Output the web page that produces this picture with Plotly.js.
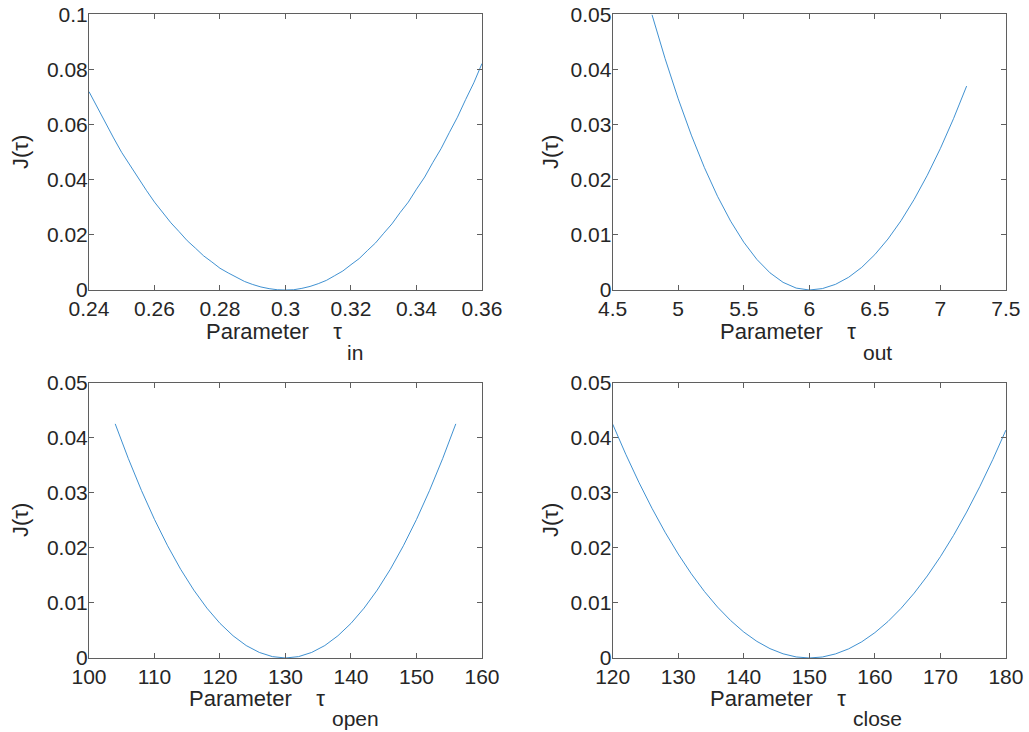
<!DOCTYPE html>
<html>
<head>
<meta charset="utf-8">
<script src="https://cdn.plot.ly/plotly-3.0.1.min.js"></script>
<style>html,body{margin:0;padding:0;background:#fff;}#plot{width:1029px;height:732px;}</style>
</head>
<body>
<div id="plot"></div>
<script>
// Panel 1: tau_in
const tauIn = [0.24,0.2425,0.245,0.2475,0.25,0.2525,0.255,0.2575,0.26,0.2625,0.265,0.2675,0.27,0.2725,0.275,0.2775,0.28,0.2825,0.285,0.2875,0.29,0.2925,0.295,0.2975,0.30,
  0.3025,0.305,0.3075,0.31,0.3125,0.315,0.3175,0.32,0.3225,0.325,0.3275,0.33,0.3325,0.335,0.3375,0.34,0.3425,0.345,0.3475,0.35,0.3525,0.355,0.3575,0.36];
const jIn = [0.0720,0.0663,0.0604,0.0552,0.0499,0.0452,0.0404,0.0362,0.0319,0.0282,0.0244,0.0212,0.0179,0.0152,0.0124,0.0102,0.0079,0.0062,0.0045,0.0031,0.0020,0.0011,0.0005,0.0001,0.0000,
  0.0001,0.0006,0.0013,0.0023,0.0035,0.0052,0.0069,0.0092,0.0114,0.0143,0.0171,0.0206,0.0240,0.0281,0.0319,0.0366,0.0410,0.0463,0.0513,0.0571,0.0627,0.0691,0.0752,0.0822];

// Panel 2: tau_out
const tauOut = [4.8,4.9,5.0,5.1,5.2,5.3,5.4,5.5,5.6,5.7,5.8,5.9,6.0,6.1,6.2,6.3,6.4,6.5,6.6,6.7,6.8,6.9,7.0,7.1,7.2];
const jOut = [0.04997,0.04199,0.03470,0.02811,0.02221,0.01700,0.01249,0.00868,0.00555,0.00312,0.00139,0.00035,0.0,
  0.00026,0.00103,0.00231,0.00411,0.00643,0.00925,0.01259,0.01645,0.02082,0.02570,0.03110,0.03701];

// Panel 3: tau_open
const tauOpen = [104,106,108,110,112,114,116,118,120,122,124,126,128,130,132,134,136,138,140,142,144,146,148,150,152,154,156];
const jOpen = [0.04252,0.03623,0.03044,0.02516,0.02038,0.01610,0.01233,0.00906,0.00629,0.00403,0.00226,0.00101,0.00025,0.0,
  0.00025,0.00101,0.00226,0.00403,0.00629,0.00906,0.01233,0.01610,0.02038,0.02516,0.03044,0.03623,0.04252];

// Panel 4: tau_close
const tauClose = [120,122,124,126,128,130,132,134,136,138,140,142,144,146,148,150,152,154,156,158,160,162,164,166,168,170,172,174,176,178,180];
const jClose = [0.04248,0.03700,0.03191,0.02719,0.02284,0.01888,0.01529,0.01208,0.00925,0.00680,0.00472,0.00302,0.00170,0.00076,0.00019,0.0,
  0.00018,0.00074,0.00166,0.00294,0.00460,0.00662,0.00902,0.01178,0.01490,0.01840,0.02226,0.02650,0.03110,0.03606,0.04140];

const xMain = 'Parameter&nbsp;&nbsp;&nbsp;&nbsp;τ';
const xSubs = ['in','out','open','close'];
const yLabel = 'J(τ)';

const lineColor = '#2a84cc';
const FONT = 'Liberation Sans, Arial, sans-serif';
const TXT = '#262626';

const traces = [
  {x: tauIn, y: jIn, xaxis:'x', yaxis:'y'},
  {x: tauOut, y: jOut, xaxis:'x2', yaxis:'y2'},
  {x: tauOpen, y: jOpen, xaxis:'x3', yaxis:'y3'},
  {x: tauClose, y: jClose, xaxis:'x4', yaxis:'y4'}
].map(t => Object.assign(t, {type:'scatter', mode:'lines', line:{color:lineColor, width:0.9}, showlegend:false, hoverinfo:'skip'}));

function ax(extra){
  return Object.assign({
    showline:true, mirror:'ticks', linecolor:'#5f5f5f', linewidth:1,
    ticks:'inside', ticklen:5, tickwidth:1, tickcolor:'#5f5f5f',
    showgrid:false, zeroline:false, fixedrange:true,
    tickfont:{family:FONT, size:21, color:TXT}
  }, extra);
}
function yax(extra){ return ax(Object.assign({ticklabelstandoff:-4}, extra)); }

const L1=[0.0865,0.4684], L2=[0.5954,0.9776];
const T=[0.6038,0.9802], B=[0.1011,0.4772];

// annotation anchor positions (paper fractions)
const mainX = [0.3343,0.8338,0.3178,0.8241];
const subX  = [0.3353,0.8367,0.3207,0.8270];
const mainY = [0.5478,0.5478,0.0451,0.0451];
const subY  = [0.5191,0.5191,0.0191,0.0191];
const yTitleX = [0.0194,0.5345,0.0194,0.5345];
const yTitleY = [0.7923,0.7923,0.2896,0.2896];

const annotations = [];
for (let i=0;i<4;i++){
  annotations.push({xref:'paper', yref:'paper', x:mainX[i], y:mainY[i], xanchor:'right', yanchor:'middle', showarrow:false,
    text:xMain, font:{family:FONT, size:22, color:TXT}});
  annotations.push({xref:'paper', yref:'paper', x:subX[i], y:subY[i], xanchor:'left', yanchor:'middle', showarrow:false,
    text:xSubs[i], font:{family:FONT, size:21, color:TXT}});
  annotations.push({xref:'paper', yref:'paper', x:yTitleX[i], y:yTitleY[i], xanchor:'center', yanchor:'middle', showarrow:false,
    textangle:-90, text:yLabel, font:{family:FONT, size:22, color:TXT}});
}

const yTicks1 = [0,0.02,0.04,0.06,0.08,0.1];
const yTicks2 = [0,0.01,0.02,0.03,0.04,0.05];
const layout = {
  width:1029, height:732,
  margin:{l:0,r:0,t:0,b:0},
  paper_bgcolor:'#ffffff', plot_bgcolor:'#ffffff',
  font:{family:FONT, color:TXT},
  annotations: annotations,
  xaxis: ax({domain:L1, anchor:'y', range:[0.24,0.36], tickvals:[0.24,0.26,0.28,0.3,0.32,0.34,0.36], ticktext:['0.24','0.26','0.28','0.3','0.32','0.34','0.36']}),
  yaxis: yax({domain:T, anchor:'x', range:[0,0.1], tickvals:yTicks1, ticktext:['0','0.02','0.04','0.06','0.08','0.1']}),
  xaxis2: ax({domain:L2, anchor:'y2', range:[4.5,7.5], tickvals:[4.5,5,5.5,6,6.5,7,7.5], ticktext:['4.5','5','5.5','6','6.5','7','7.5']}),
  yaxis2: yax({domain:T, anchor:'x2', range:[0,0.05], tickvals:yTicks2, ticktext:['0','0.01','0.02','0.03','0.04','0.05']}),
  xaxis3: ax({domain:L1, anchor:'y3', range:[100,160], tickvals:[100,110,120,130,140,150,160]}),
  yaxis3: yax({domain:B, anchor:'x3', range:[0,0.05], tickvals:yTicks2, ticktext:['0','0.01','0.02','0.03','0.04','0.05']}),
  xaxis4: ax({domain:L2, anchor:'y4', range:[120,180], tickvals:[120,130,140,150,160,170,180]}),
  yaxis4: yax({domain:B, anchor:'x4', range:[0,0.05], tickvals:yTicks2, ticktext:['0','0.01','0.02','0.03','0.04','0.05']})
};

Plotly.newPlot('plot', traces, layout, {staticPlot:true, displayModeBar:false});
</script>
</body>
</html>
